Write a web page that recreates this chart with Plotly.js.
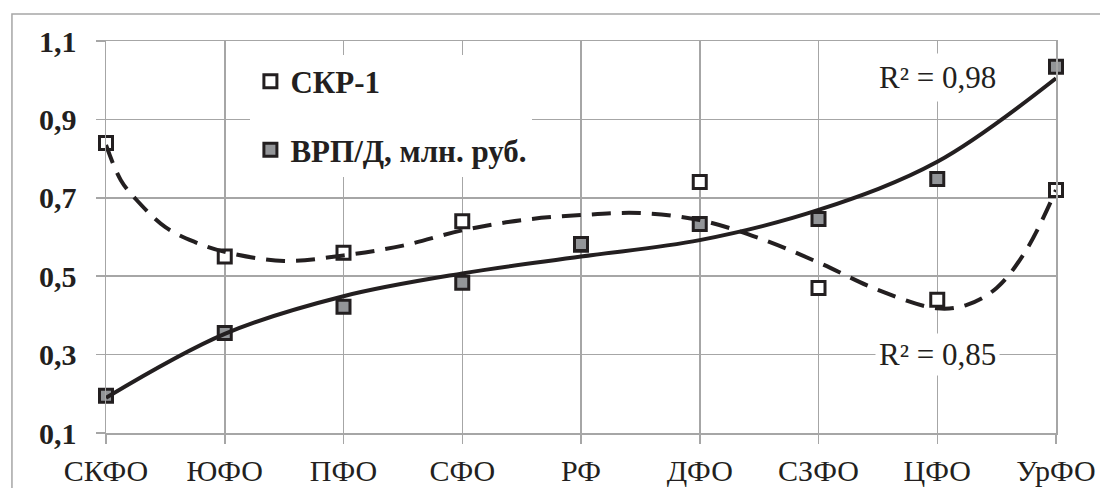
<!DOCTYPE html>
<html>
<head>
<meta charset="utf-8">
<script src="https://cdn.plot.ly/plotly-3.0.1.min.js"></script>
<style>
  html, body { margin: 0; padding: 0; background: #ffffff; }
  #chart { width: 1100px; height: 488px; }
</style>
</head>
<body>
<div id="chart"></div>
<script>
// ---- data ----
var categories = ['СКФО', 'ЮФО', 'ПФО', 'СФО', 'РФ', 'ДФО', 'СЗФО', 'ЦФО', 'УрФО'];
var skrValues = [0.84, 0.55, 0.56, 0.64, 0.58, 0.74, 0.47, 0.44, 0.72];
var vrpValues = [0.195, 0.355, 0.422, 0.483, 0.582, 0.633, 0.646, 0.748, 1.034];

// trend lines (position along the category axis, value)
var skrTrendPos = [0, 0.125, 0.25, 0.5, 0.75, 1, 1.5, 2, 2.5, 3, 3.5, 4, 4.5, 5, 5.5, 6, 6.5, 7, 7.25, 7.5, 7.75, 8];
var skrTrendVal = [0.835, 0.745, 0.697, 0.625, 0.587, 0.562, 0.539, 0.553, 0.578, 0.617, 0.643, 0.656, 0.661, 0.643, 0.597, 0.535, 0.465, 0.418, 0.427, 0.47, 0.567, 0.72];
var vrpTrendPos = [0, 1, 2, 3, 4, 5, 6, 7, 8];
var vrpTrendVal = [0.19, 0.353, 0.449, 0.507, 0.55, 0.592, 0.669, 0.792, 1.005];

var seriesNames = ['СКР-1', 'ВРП/Д, млн. руб.'];
var r2Labels = ['R² = 0,85', 'R² = 0,98'];
var yTickVals = [0.1, 0.3, 0.5, 0.7, 0.9, 1.1];
var yTickText = ['0,1', '0,3', '0,5', '0,7', '0,9', '1,1'];

// ---- drawing ----
var ink = '#231f20';
var gridGrey = '#a6a6a6';
var serif = '"Liberation Serif", "Times New Roman", serif';
var catPos = categories.map(function (c, i) { return i; });
function bold(s) { return '<b>' + s + '</b>'; }

var traces = [
  {
    x: catPos, y: skrValues, name: bold(seriesNames[0]), type: 'scatter', mode: 'markers',
    legendgroup: 'a', cliponaxis: false,
    marker: { symbol: 'square', size: 13, color: '#ffffff', line: { color: ink, width: 3 } }
  },
  {
    x: catPos, y: vrpValues, name: bold(seriesNames[1]), type: 'scatter', mode: 'markers',
    legendgroup: 'b', cliponaxis: false,
    marker: { symbol: 'square', size: 13, color: '#939598', line: { color: ink, width: 3 } }
  },
  {
    x: skrTrendPos, y: skrTrendVal, type: 'scatter', mode: 'lines', showlegend: false,
    cliponaxis: false, hoverinfo: 'skip',
    line: { color: ink, width: 4, dash: '19px,11px', shape: 'spline', smoothing: 1 }
  },
  {
    x: vrpTrendPos, y: vrpTrendVal, type: 'scatter', mode: 'lines', showlegend: false,
    cliponaxis: false, hoverinfo: 'skip',
    line: { color: ink, width: 4, shape: 'spline', smoothing: 1 }
  }
];

var layout = {
  width: 1100, height: 488,
  margin: { l: 106, r: 44, t: 41, b: 55 },
  paper_bgcolor: '#ffffff', plot_bgcolor: '#ffffff',
  font: { family: serif, color: ink, size: 30 },
  showlegend: true,
  legend: {
    x: 0.152, xanchor: 'left', y: 0.965, yanchor: 'top',
    bgcolor: '#ffffff', borderwidth: 0,
    traceorder: 'grouped', tracegroupgap: 25, itemwidth: 30,
    font: { family: serif, size: 31, color: ink }
  },
  xaxis: {
    range: [0, 8], fixedrange: true,
    tickmode: 'array', tickvals: catPos, ticktext: categories,
    showgrid: true, gridcolor: gridGrey, gridwidth: 1.5,
    showline: true, mirror: true, linecolor: gridGrey, linewidth: 1.5,
    ticks: 'outside', ticklen: 9, tickwidth: 1.5, tickcolor: gridGrey,
    ticklabelstandoff: 1,
    tickfont: { family: serif, size: 30, color: ink },
    zeroline: false
  },
  yaxis: {
    range: [0.1, 1.1], fixedrange: true,
    tickmode: 'array', tickvals: yTickVals, ticktext: yTickText.map(bold),
    showgrid: true, gridcolor: gridGrey, gridwidth: 1.5,
    showline: true, mirror: true, linecolor: gridGrey, linewidth: 1.5,
    ticks: 'outside', ticklen: 9, tickwidth: 1.5, tickcolor: gridGrey,
    ticklabelstandoff: 13,
    tickfont: { family: serif, size: 30, color: ink },
    zeroline: false
  },
  annotations: [
    {
      x: 7, y: 0.3, xref: 'x', yref: 'y', text: r2Labels[0], showarrow: false,
      bgcolor: '#ffffff', borderpad: 3, xanchor: 'center', yanchor: 'middle',
      font: { family: serif, size: 31, color: ink }
    },
    {
      x: 7, y: 1.008, xref: 'x', yref: 'y', text: r2Labels[1], showarrow: false,
      bgcolor: '#ffffff', borderpad: 6, xanchor: 'center', yanchor: 'middle',
      font: { family: serif, size: 31, color: ink }
    }
  ],
  shapes: [
    {
      type: 'rect', xref: 'paper', yref: 'paper', layer: 'below',
      x0: -0.099, x1: 1.06, y0: -0.2, y1: 1.069,
      line: { color: gridGrey, width: 1.5 }, fillcolor: 'rgba(0,0,0,0)'
    }
  ]
};

Plotly.newPlot('chart', traces, layout, { displayModeBar: false, staticPlot: true });
</script>
</body>
</html>
